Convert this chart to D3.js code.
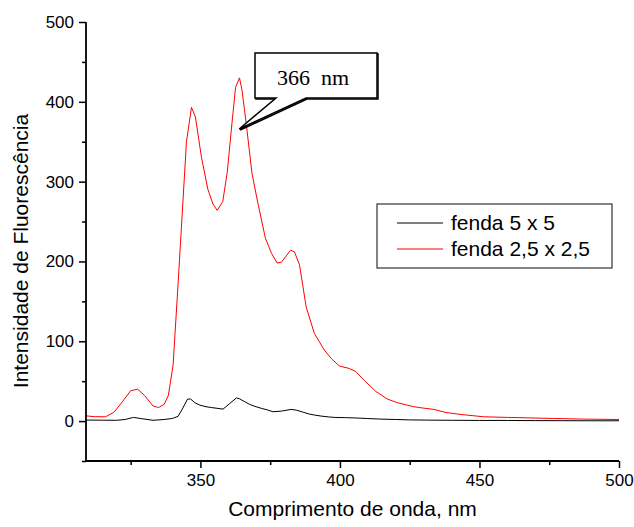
<!DOCTYPE html>
<html><head><meta charset="utf-8">
<script src="https://cdn.jsdelivr.net/npm/d3@7"></script>
<style>body{margin:0;background:#fff}svg{display:block}</style>
</head><body>
<svg id="c" width="634" height="527"></svg>
<script>
const seriesNames = ["fenda 5 x 5", "fenda 2,5 x 2,5"];
const seriesColors = ["#000000", "#ff0000"];

const blackWavelength = [309,315,320,323,326,329,333,337,340,342,343.5,345.4,346.5,348,349.8,352,353.9,356,358.1,360.5,362.9,364,366,367.6,369.5,371.8,374,376,379,382.5,384.3,386.5,389,391,393.2,396,398,402,405,410,414.6,420,425,432,440,450,460,470,480,490,500];
const blackIntensity  = [1.3,1.1,1,2,4.6,3,1,2,3.3,6,15,27.6,27.6,23,20,18,17,16,15,22,29,28,24,21,18.5,16,14,11.7,12.5,14.6,13.8,11.5,8.8,7.5,6.3,5.2,4.6,4.3,4,3.2,2.5,2,1.5,1.2,1,0.8,0.8,0.6,0.5,0.4,0.4];

const redWavelength = [309,312,316,319,322,325,327.5,330,333,335,337,338.5,340.2,342,345,346.8,348.2,350.4,352.7,354.5,356,358,359.6,361.3,362.6,364,364.9,366.4,368.5,370.6,373.3,375.5,377.5,379,381,382.3,383.7,385.5,387.9,390.8,394.4,397,399.8,403.3,405.7,408.7,412.9,417,420.6,426.5,429,433.7,438,443,451.5,460,468,476.5,487,500];
const redIntensity  = [6.6,5.5,5.4,11,24,38,40,32,19,17,21,32,70,172,350,393,381,330,290,272,264,275,311,373,418,430,415,373,310,273,229,210,198,199,208,214,212,196,143,110,89,78,69,66,62,51,37,27.6,23,18,16.7,14.6,10.8,8.4,5.4,4.6,4,3.3,2.5,2];

const xMajorTicks = [350,400,450,500];
const xMinorTicks = [325,375,425,475];
const yMajorTicks = [0,100,200,300,400,500];
const yMinorTicks = [-50,50,150,250,350,450];

const xTitle = "Comprimento de onda, nm";
const yTitle = "Intensidade de Fluorescência";
const annotationText = "366  nm";
const annotationPoint = [363.9, 366];

const svg = d3.select("#c");
const x = d3.scaleLinear().domain([309,500]).range([86,619]);
const y = d3.scaleLinear().domain([-50,500]).range([461,22]);

const sans = "'Liberation Sans', Arial, sans-serif";

// series
const line = d3.line().x(d=>x(d[0])).y(d=>y(d[1]));
const blackData = blackWavelength.map((w,i)=>[w,blackIntensity[i]]);
const redData = redWavelength.map((w,i)=>[w,redIntensity[i]]);
svg.append("path").datum(blackData).attr("d",line).attr("fill","none").attr("stroke",seriesColors[0]).attr("stroke-width",1);
svg.append("path").datum(redData).attr("d",line).attr("fill","none").attr("stroke",seriesColors[1]).attr("stroke-width",1);

// axes
const xAxis = d3.axisBottom(x).tickValues(xMajorTicks).tickSize(7).tickPadding(6).tickFormat(d3.format("d"));
const gx = svg.append("g").attr("transform",`translate(0,${y(-50)})`).call(xAxis);
gx.append("g").call(d3.axisBottom(x).tickValues(xMinorTicks).tickSize(4).tickFormat(""));
const yAxis = d3.axisLeft(y).tickValues(yMajorTicks).tickSize(7).tickPadding(5).tickFormat(d3.format("d"));
const gy = svg.append("g").attr("transform",`translate(${x(309)},0)`).call(yAxis);
gy.append("g").call(d3.axisLeft(y).tickValues(yMinorTicks).tickSize(4).tickFormat(""));
[gx,gy].forEach(g=>{
  g.selectAll(".domain").attr("stroke","#000").attr("stroke-width",1.8);
  g.selectAll("g").selectAll(".domain").remove();
  g.selectAll(".tick line").attr("stroke","#000").attr("stroke-width",1.5);
  g.selectAll(".tick text").attr("font-family",sans).attr("font-size",17).attr("fill","#000");
});
gx.selectAll("path.domain").attr("d",`M${x(309)},0H${x(500)}`);
gy.selectAll("path.domain").attr("d",`M0,${y(-50)}V${y(500)}`);

// titles
svg.append("text").attr("x",(x(309)+x(500))/2).attr("y",516).attr("text-anchor","middle")
  .attr("font-family",sans).attr("font-size",21).text(xTitle);
svg.append("text").attr("transform",`translate(28,251) rotate(-90)`).attr("text-anchor","middle")
  .attr("font-family",sans).attr("font-size",21).text(yTitle);

// legend
const lg = svg.append("g");
lg.append("rect").attr("x",377).attr("y",204).attr("width",235).attr("height",64)
  .attr("fill","#fff").attr("stroke","#333").attr("stroke-width",1.2);
seriesNames.forEach((n,i)=>{
  const yy = 223 + i*26;
  lg.append("line").attr("x1",397).attr("x2",443).attr("y1",yy).attr("y2",yy).attr("stroke",seriesColors[i]).attr("stroke-width",1.1);
  lg.append("text").attr("x",451).attr("y",yy).attr("dy","0.35em").attr("font-family",sans).attr("font-size",21).text(n);
});

// annotation callout
const tx = x(annotationPoint[0]), ty = y(annotationPoint[1]);
const bx0=255, by0=53, bx1=377, by1=98;
const callout = `M${bx0},${by0}H${bx1}V${by1}H306L${tx},${ty}L276,${by1}H${bx0}Z`;
svg.append("path").attr("d",callout).attr("transform","translate(1,1)").attr("fill","none").attr("stroke","#000").attr("stroke-width",1.5);
svg.append("path").attr("d",callout).attr("fill","#fff").attr("stroke","#000").attr("stroke-width",1.5).attr("stroke-linejoin","miter");
svg.append("text").attr("x",313).attr("y",85).attr("text-anchor","middle").attr("xml:space","preserve")
  .style("white-space","pre").attr("font-family","'Liberation Serif', 'Times New Roman', serif").attr("font-size",22).text(annotationText);
</script>
</body></html>
